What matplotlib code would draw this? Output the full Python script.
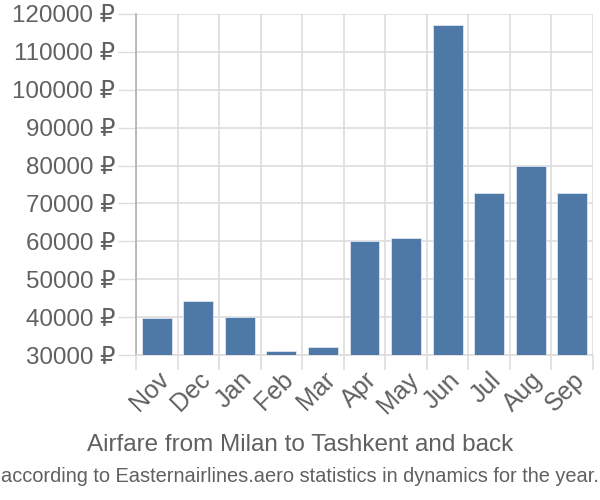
import matplotlib.pyplot as plt
from matplotlib.ticker import FixedLocator

months = ['Nov', 'Dec', 'Jan', 'Feb', 'Mar', 'Apr', 'May', 'Jun', 'Jul', 'Aug', 'Sep']
prices = [39800, 44200, 40100, 31000, 32000, 60100, 60800, 117100, 72700, 79800, 72700]
yticks = list(range(30000, 120001, 10000))

TEXT = '#606060'
GRID = '#dddddd'
BAR = '#4e79a7'
FONT = ['Liberation Sans', 'DejaVu Sans']

fig = plt.figure(figsize=(6, 5), dpi=100)
ax = fig.add_axes([136 / 600, 1 - 355 / 500, (593 - 136) / 600, (355 - 14) / 500])

x = list(range(len(months)))
ax.bar(x, prices, width=0.72, color=BAR, edgecolor='#dfe6ef', linewidth=0.6,
       bottom=0, zorder=3)

ax.set_xlim(-0.5, len(months) - 0.5)
ax.set_ylim(30000, 120000)

ax.set_yticks(yticks)
ax.set_yticklabels([f'{v} ₽' for v in yticks], family=FONT, fontsize=17.4, color=TEXT)
ax.set_xticks(x)
ax.set_xticklabels(months, family=FONT, fontsize=18, color=TEXT,
                   rotation=45, ha='right', rotation_mode='anchor')

ax.xaxis.set_minor_locator(FixedLocator([i - 0.5 for i in range(len(months) + 1)]))
ax.tick_params(axis='x', which='major', length=0, pad=9)
ax.tick_params(axis='x', which='minor', length=11, color=GRID, width=1.2)
ax.tick_params(axis='y', length=13, color=GRID, width=1, pad=2)

ax.grid(True, axis='y', color=GRID, linewidth=1.2, zorder=0)
ax.grid(True, axis='x', which='minor', color=GRID, linewidth=1.2, zorder=0)
ax.grid(False, axis='x', which='major')

for s in ['top', 'right']:
    ax.spines[s].set_visible(False)
ax.spines['bottom'].set_color(GRID)
ax.spines['bottom'].set_linewidth(1.2)
ax.spines['left'].set_color('#b0b0b0')
ax.spines['left'].set_linewidth(1.2)
ax.spines['left'].set_bounds(30000, 120000)

fig.text(300 / 600, 1 - 445 / 500, 'Airfare from Milan to Tashkent and back',
         ha='center', va='center', family=FONT, fontsize=17.5, color=TEXT)
fig.text(300 / 600, 1 - 476 / 500,
         'according to Easternairlines.aero statistics in dynamics for the year.',
         ha='center', va='center', family=FONT, fontsize=14.4, color=TEXT)

fig.savefig('out.png', dpi=100)
